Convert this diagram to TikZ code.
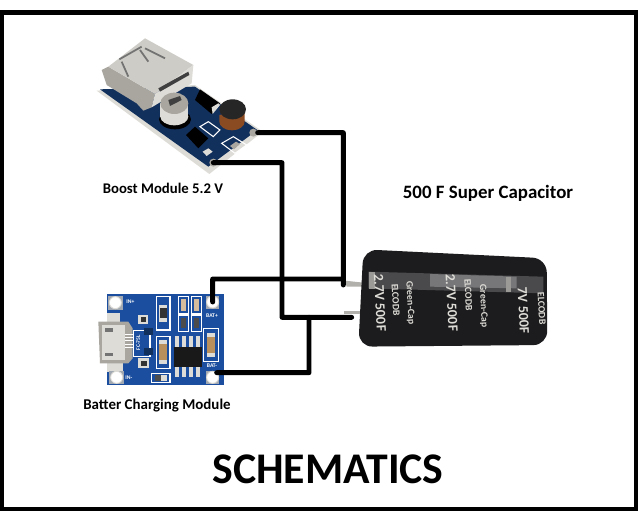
\documentclass[tikz,border=0pt]{standalone}
\usepackage{fontspec}
\setmainfont{Carlito}
\usetikzlibrary{positioning}
\definecolor{navy}{HTML}{12305C}
\definecolor{pcb}{HTML}{1B4E9E}
\definecolor{silver}{HTML}{A8A69F}
\definecolor{lightsilver}{HTML}{DEDCD6}
\definecolor{tan}{HTML}{B98F5C}
\definecolor{coil}{HTML}{8A4B22}
\definecolor{capbody}{HTML}{1C1C1E}
\definecolor{capband}{HTML}{77777A}
\definecolor{capedge}{HTML}{4A4A4C}
\tikzset{
	wire/.style={draw=black,line width=2.8pt,line cap=round,line join=round},
	frameline/.style={draw=black,line width=2.7pt},
	caption/.style={font=\bfseries,inner sep=0pt,text=black},
	silk/.style={draw=white,line width=.6pt,fill=none},
	pad/.style={circle,fill=white,draw=lightsilver,line width=.5pt,minimum size=2.4mm,inner sep=0pt},
	lug/.style={circle,fill=silver,minimum size=1.6mm,inner sep=0pt},
	smalltext/.style={text=white,font=\bfseries\fontsize{3.2}{4}\selectfont,inner sep=0pt},
	captext/.style={text=lightsilver,inner sep=0pt,rotate=-87,font=\bfseries\fontsize{8}{9}\selectfont},
	captextsmall/.style={captext,font=\bfseries\fontsize{5.6}{6}\selectfont},
	zoomed/.style={x=0.00667cm,y=-0.00667cm}
}
\begin{document}
\begin{tikzpicture}[x=0.02cm,y=-0.02cm]
	\useasboundingbox (0,0) rectangle (638,527);
	\fill[white] (0,0) rectangle (638,527);
	\draw[frameline] (1.5,12.5) -- (636,12.5) -- (636,509) -- (1.5,509) -- cycle;

	\begin{scope}[shift={(80,20)},zoomed]
		\fill[lightsilver] (50,212) -- (345,195) -- (548,335) -- (388,462) -- cycle;
		\fill[navy] (60,208) -- (345,200) -- (532,330) -- (385,440) -- cycle;
		\fill[silver] (65,150) -- (85,140) -- (225,222) -- (215,262) -- (190,272) -- (170,250) -- (80,195) -- cycle;
		\fill[lightsilver!70!silver] (85,140) -- (195,55) -- (340,135) -- (225,222) -- cycle;
		\fill[lightsilver] (225,222) -- (340,135) -- (335,190) -- (215,262) -- cycle;
		\draw[black!55,line width=1pt] (125,125) -- (145,170) (180,90) -- (205,125) (118,118) -- (185,80) (195,85) -- (255,115);
		\fill[black!75] (235,205) -- (325,155) -- (328,165) -- (240,215) -- cycle;
		\fill[black] (360,208) -- (420,250) -- (395,282) -- (345,240) -- cycle;
		\fill[lightsilver] (395,262) -- (415,250) -- (420,255) -- (398,282) -- cycle;
		\fill[black] (285,298) ellipse (48 and 30);
		\fill[lightsilver] (241,250) rectangle (325,290);
		\fill[lightsilver] (283,290) ellipse (42 and 26);
		\fill[silver] (283,250) ellipse (42 and 32);
		\fill[black!75] (265,240) -- (300,228) -- (305,240) -- (270,258) -- cycle;
		\fill[coil] (418,285) -- (418,305) arc (180:360:38 and -26) -- (494,270) -- cycle;
		\fill[black!85] (458,268) ellipse (40 and 30);
		\fill[black] (318,345) -- (345,320) -- (385,355) -- (355,385) -- cycle;
		\draw[silk] (360,320) -- (385,305) -- (420,330) -- (400,350) -- cycle;
		\draw[silk] (425,370) -- (460,350) -- (500,375) -- (465,400) -- cycle;
		\fill[silver] (450,378) -- (468,365) -- (480,372) -- (462,388) -- cycle;
		\fill[lightsilver] (368,395) -- (385,385) -- (398,395) -- (380,408) -- cycle;
		\node[lug] (boostplus) at (520,338) {};
		\node[lug] (boostminus) at (400,428) {};
	\end{scope}

	\begin{scope}[shift={(70,260)},zoomed]
		\fill[pcb] (110,102) rectangle (462,375);
		\fill[lightsilver] (112,160) rectangle (150,185);
		\fill[lightsilver] (112,310) rectangle (160,335);
		\fill[silver] (85,185) -- (175,185) -- (188,205) -- (188,295) -- (175,310) -- (90,310) -- cycle;
		\fill[lightsilver] (95,195) rectangle (165,300);
		\fill[black!55] (105,205) rectangle (130,215);
		\fill[black!55] (105,278) rectangle (130,288);
		\draw[white,line width=.5pt] (165,222) -- (190,222) (165,232) -- (190,232) (165,242) -- (190,242) (165,252) -- (190,252) (165,262) -- (190,262);
		\draw[silk] (190,212) -- (240,212) -- (240,290) -- (190,290) -- cycle;
		\node[smalltext,rotate=90] (fclabel) at (205,248) {FC-75L};
		\fill[navy] (222,205) rectangle (248,225);
		\fill[navy] (222,265) rectangle (248,285);
		\fill[lightsilver] (205,165) rectangle (235,192);
		\fill[black!80] (212,172) rectangle (228,185);
		\fill[lightsilver] (205,295) rectangle (238,325);
		\fill[black!80] (212,302) rectangle (230,318);
		\draw[silk] (260,110) rectangle (300,210);
		\fill[lightsilver] (268,135) rectangle (292,185);
		\fill[black!80] (270,145) rectangle (290,175);
		\draw[silk] (260,230) rectangle (300,325);
		\fill[tan] (268,240) rectangle (292,312);
		\fill[lightsilver] (268,240) rectangle (292,252);
		\fill[lightsilver] (268,300) rectangle (292,312);
		\draw[silk] (325,110) rectangle (355,160);
		\draw[silk] (365,110) rectangle (395,160);
		\draw[silk] (325,165) rectangle (355,215);
		\draw[silk] (365,165) rectangle (395,215);
		\fill[tan!60!white] (332,118) rectangle (348,152);
		\fill[tan!60!white] (372,118) rectangle (388,152);
		\fill[black!70] (332,175) rectangle (348,205);
		\fill[black!70] (372,175) rectangle (388,205);
		\draw[silk] (400,205) rectangle (445,305);
		\fill[tan] (410,218) rectangle (436,292);
		\fill[lightsilver] (410,218) rectangle (436,230);
		\fill[lightsilver] (410,280) rectangle (436,292);
		\foreach \pinx in {322,342,362,384} {
			\fill[lightsilver] (\pinx-6,228) rectangle (\pinx+6,262);
			\fill[lightsilver] (\pinx-6,322) rectangle (\pinx+6,350);
		}
		\fill[black!90] (312,262) rectangle (396,322);
		\draw[silk] (245,340) rectangle (300,368);
		\fill[black!70] (255,346) rectangle (272,362);
		\fill[lightsilver] (272,346) rectangle (290,362);
		\fill[navy!30!lightsilver] (114,108) rectangle (158,150);
		\fill[navy!30!lightsilver] (118,332) rectangle (162,372);
		\fill[navy!30!lightsilver] (408,108) rectangle (448,148);
		\fill[navy!30!lightsilver] (408,332) rectangle (448,372);
		\node[pad] (inplus) at (136,128) {};
		\node[pad] (inminus) at (140,352) {};
		\node[pad] (batplus) at (428,126) {};
		\node[pad] (batminus) at (428,352) {};
		\coordinate (batminusend) at (440,338);
		\node[smalltext,anchor=west] (inplustext) at (168,125) {IN+};
		\node[smalltext,anchor=west] (inminustext) at (165,353) {IN-};
		\node[smalltext] (batplustext) at (426,168) {BAT+};
		\node[smalltext] (batminustext) at (426,316) {BAT-};
	\end{scope}

	\begin{scope}[shift={(330,230)},zoomed]
		\fill[lightsilver!80!black] (45,152) -- (100,158) -- (100,170) -- (50,170) -- cycle;
		\fill[lightsilver!80!black] (42,242) -- (95,242) -- (95,252) -- (42,252) -- cycle;
		\fill[capbody,rounded corners=8pt] (100,58) -- (650,85) -- (652,345) -- (85,350) -- cycle;
		\fill[capedge] (115,125) -- (640,140) -- (640,190) -- (115,175) -- cycle;
		\fill[capband] (300,132) -- (560,140) -- (560,175) -- (300,170) -- cycle;
		\fill[lightsilver!70!black] (118,125) rectangle (135,178);
		\fill[lightsilver!70!black] (528,140) rectangle (542,185);
		\node[captext] (volta) at (150,218) {2.7V 500F};
		\node[captextsmall] (cnamea) at (240,218) {Green-Cap};
		\node[captextsmall] (codea) at (197,210) {ELCODB};
		\node[captext] (voltb) at (365,218) {2.7V 500F};
		\node[captextsmall] (cnameb) at (460,228) {Green-Cap};
		\node[captextsmall] (codeb) at (415,195) {ELCODB};
		\node[captext] (voltc) at (580,242) {7V 500F};
		\node[captextsmall] (codec) at (635,235) {ELCODB};
		\coordinate (capplus) at (40,165);
		\coordinate (capminus) at (65,262);
	\end{scope}

	\coordinate (topbend) at (343.33,132.67);
	\coordinate (topjoin) at (343.33,279);
	\coordinate (batbend) at (212.67,279);
	\coordinate (minusbend) at (282,162.67);
	\coordinate (minusdown) at (282,317.33);
	\coordinate (chargebend) at (309,372.67);
	\coordinate (chargeup) at (309,317.33);

	\draw[wire] (boostplus) -- (topbend) -- (capplus);
	\draw[wire] (topjoin) -- (batbend) -- (batplus.center);
	\draw[wire] (boostminus.center) -- (minusbend) -- (minusdown) -- (capminus);
	\draw[wire] (batminusend) -- (chargebend) -- (chargeup);

	\node[caption,font=\bfseries\fontsize{8.4}{9}\selectfont] (boostlabel) at (163,188) {Boost Module 5.2 V};
	\node[caption,font=\bfseries\fontsize{10.75}{12}\selectfont] (caplabel) at (488,193) {500 F Super Capacitor};
	\node[caption,font=\bfseries\fontsize{8.5}{9}\selectfont] (chargelabel) at (157,406) {Batter Charging Module};
	\node[caption,font=\bfseries\fontsize{24.9}{28}\selectfont] (title) at (328,469) {SCHEMATICS};
\end{tikzpicture}
\end{document}
